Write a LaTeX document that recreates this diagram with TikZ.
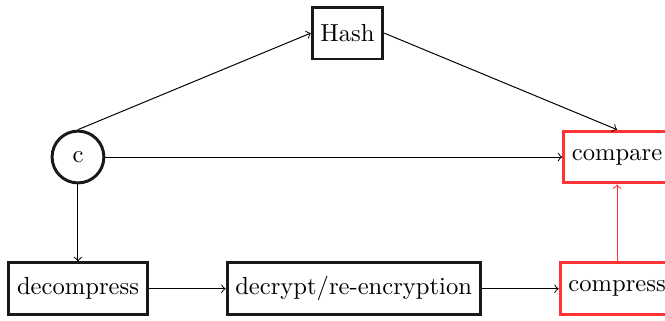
\documentclass[tikz,border=0pt]{standalone}
\usetikzlibrary{positioning,calc}
\begin{document}
\begin{tikzpicture}[node distance=1.1cm,
	box/.style={draw=black!90, very thick, minimum height=0.74cm},
	redbox/.style={draw=red!80, very thick, minimum height=0.74cm},
	roundnode/.style={circle, draw=black!90, very thick, minimum size=0.74cm}]
			\useasboundingbox (-1.114,-2.329) rectangle (8.386,2.243);
			\node[roundnode] (c) {c};
			\node[box, below=of c] (decompress) {decompress};
			\node[box, right=of decompress] (decrypt) {decrypt/re-encryption};
			\node[redbox, right=of decrypt] (compress) {compress};
			\node[redbox, above=of compress] (compare) {compare};
			\node[box] (hash) at ($(c)!0.5!(compare)+(0,1.77)$) {Hash};
			\draw[->] (c.north) -- (hash.west);
			\draw[->] (hash.east) -- (compare.north);
			\draw[->] (c.east) -- (compare.west);
			\draw[->] (c.south) -- (decompress.north);
			\draw[->] (decompress) -- (decrypt);
			\draw[->] (decrypt) -- (compress);
			\draw[->, red!80] (compress) -- (compare);
			\end{tikzpicture}
\end{document}
